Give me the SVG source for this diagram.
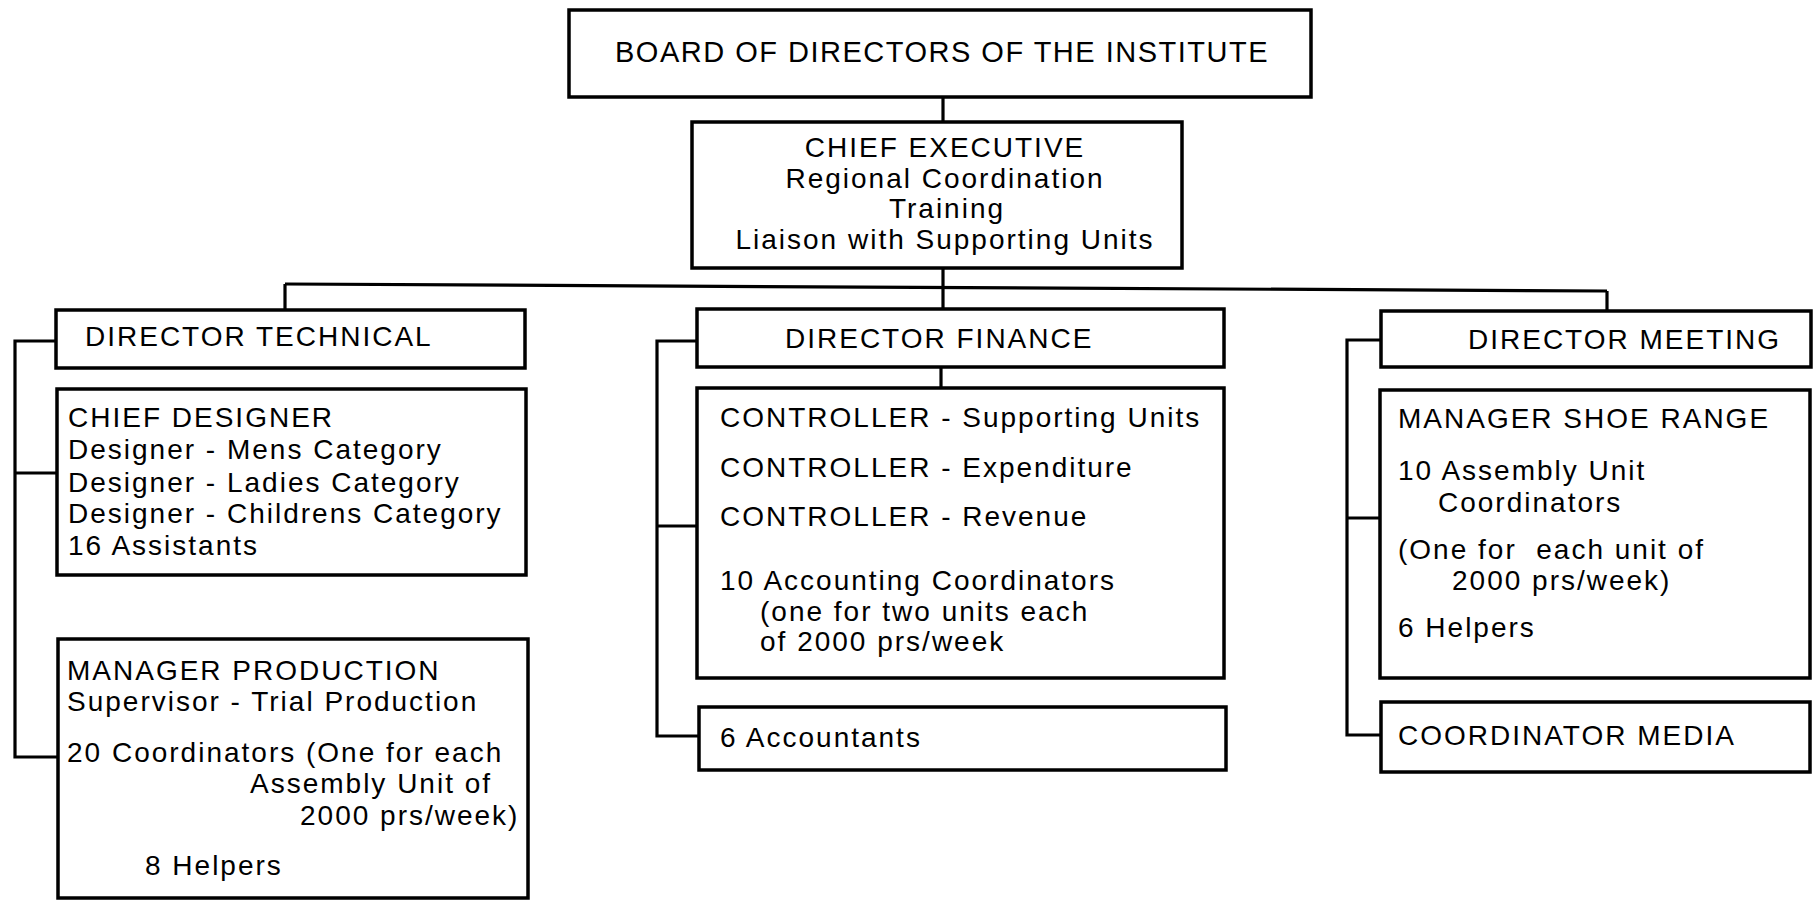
<svg xmlns="http://www.w3.org/2000/svg" width="1817" height="900" viewBox="0 0 1817 900">
<style>
.box{fill:#fff;stroke:#000;stroke-width:3.5}
.ln{fill:none;stroke:#000;stroke-width:3.2}
text{font-family:"Liberation Sans",Arial,sans-serif;font-size:28px;letter-spacing:2px;fill:#000}
.t{font-size:29px;letter-spacing:1.5px}
.c{text-anchor:middle}
</style>
<rect width="1817" height="900" fill="#fff"/>
<g id="connectors">
<path class="ln" d="M943 97 V122"/>
<path class="ln" d="M943 268 V309"/>
<path class="ln" d="M285 284 L1607 291"/>
<path class="ln" d="M285 284 V310"/>
<path class="ln" d="M1607 291 V311"/>
<path class="ln" d="M941 367 V388"/>
<path class="ln" d="M56 341 H15 V757 H58 M15 473 H57"/>
<path class="ln" d="M697 341 H657 V736 H699 M657 526 H697"/>
<path class="ln" d="M1381 340 H1347 V735 H1381 M1347 518 H1380"/>
</g>
<g id="board">
<rect class="box" x="569" y="10" width="742" height="87"/>
<text class="t" x="615" y="62">BOARD OF DIRECTORS OF THE INSTITUTE</text>
</g>
<g id="chief-executive">
<rect class="box" x="692" y="122" width="490" height="146"/>
<text class="c" x="945" y="157">CHIEF EXECUTIVE</text>
<text class="c" x="945" y="188">Regional Coordination</text>
<text class="c" x="947" y="218">Training</text>
<text class="c" x="945" y="249">Liaison with Supporting Units</text>
</g>
<g id="director-technical">
<rect class="box" x="56" y="310" width="469" height="58"/>
<text x="85" y="346">DIRECTOR TECHNICAL</text>
</g>
<g id="director-finance">
<rect class="box" x="697" y="309" width="527" height="58"/>
<text x="785" y="348">DIRECTOR FINANCE</text>
</g>
<g id="director-meeting">
<rect class="box" x="1381" y="311" width="430" height="56"/>
<text x="1468" y="349">DIRECTOR MEETING</text>
</g>
<g id="chief-designer">
<rect class="box" x="57" y="389" width="469" height="186"/>
<text x="68" y="427">CHIEF DESIGNER</text>
<text x="68" y="459">Designer - Mens Category</text>
<text x="68" y="492">Designer - Ladies Category</text>
<text x="68" y="523">Designer - Childrens Category</text>
<text x="68" y="555">16 Assistants</text>
</g>
<g id="manager-production">
<rect class="box" x="58" y="639" width="470" height="259"/>
<text x="67" y="680">MANAGER PRODUCTION</text>
<text x="67" y="711">Supervisor - Trial Production</text>
<text x="67" y="762">20 Coordinators (One for each</text>
<text x="250" y="793">Assembly Unit of</text>
<text x="300" y="825">2000 prs/week)</text>
<text x="145" y="875">8 Helpers</text>
</g>
<g id="controllers">
<rect class="box" x="697" y="388" width="527" height="290"/>
<text x="720" y="427">CONTROLLER - Supporting Units</text>
<text x="720" y="477">CONTROLLER - Expenditure</text>
<text x="720" y="526">CONTROLLER - Revenue</text>
<text x="720" y="590">10 Accounting Coordinators</text>
<text x="760" y="621">(one for two units each</text>
<text x="760" y="651">of 2000 prs/week</text>
</g>
<g id="accountants">
<rect class="box" x="699" y="707" width="527" height="63"/>
<text x="720" y="747">6 Accountants</text>
</g>
<g id="manager-shoe-range">
<rect class="box" x="1380" y="390" width="430" height="288"/>
<text x="1398" y="428">MANAGER SHOE RANGE</text>
<text x="1398" y="480">10 Assembly Unit</text>
<text x="1438" y="512">Coordinators</text>
<text x="1398" y="559">(One for&#160; each unit of</text>
<text x="1452" y="590">2000 prs/week)</text>
<text x="1398" y="637">6 Helpers</text>
</g>
<g id="coordinator-media">
<rect class="box" x="1381" y="702" width="429" height="70"/>
<text x="1398" y="745">COORDINATOR MEDIA</text>
</g>
</svg>
